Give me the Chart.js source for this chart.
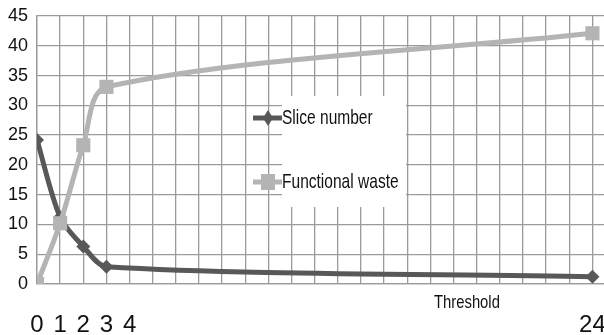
<!DOCTYPE html>
<html><head><meta charset="utf-8">
<script src="https://cdn.jsdelivr.net/npm/chart.js@4/dist/chart.umd.min.js"></script>
<style>html,body{margin:0;padding:0;background:#fff;overflow:hidden}#wrap{width:604px;height:335px;overflow:hidden}</style>
</head><body><div id="wrap"><canvas id="c" width="614" height="335"></canvas></div>
<script>
const xValues = [0, 1, 2, 3, 24];
const sliceNumber = [24.2, 11.2, 6.3, 2.9, 1.2];
const functionalWaste = [0, 10.2, 23.3, 33.1, 42.1];
const xTickLabels = [0, 1, 2, 3, 4, 24];
const yTicks = [0, 5, 10, 15, 20, 25, 30, 35, 40, 45];
const seriesNames = ['Slice number', 'Functional waste'];
const axisNote = 'Threshold';

const FONT = '"Liberation Sans", Arial, sans-serif';
const DARK = '#585858', LIGHT = '#b4b4b4', GRID = '#9a9a9a';

const toPts = (ys) => xValues.map((x, i) => ({x, y: ys[i]}));

function narrowText(ctx, text, x, y, sx) {
  ctx.save();
  ctx.translate(x, y);
  ctx.scale(sx, 1);
  ctx.fillText(text, 0, 0);
  ctx.restore();
}

const overlay = {
  id: 'overlay',
  afterDatasetsDraw(chart) {
    const ctx = chart.ctx;
    ctx.save();
    ctx.fillStyle = '#fff';
    ctx.fillRect(282, 96, 124, 111);
    const items = [
      {y: 118, color: DARK, style: 'diamond', name: seriesNames[0]},
      {y: 182, color: LIGHT, style: 'square', name: seriesNames[1]}
    ];
    items.forEach(it => {
      ctx.strokeStyle = it.color; ctx.lineWidth = 5; ctx.lineCap = 'butt';
      ctx.beginPath(); ctx.moveTo(253, it.y); ctx.lineTo(282, it.y); ctx.stroke();
      ctx.fillStyle = it.color;
      ctx.beginPath();
      if (it.style === 'square') { ctx.rect(268 - 7, it.y - 8, 14, 16); }
      else { ctx.moveTo(268, it.y - 8); ctx.lineTo(273, it.y); ctx.lineTo(268, it.y + 8); ctx.lineTo(263, it.y); ctx.closePath(); }
      ctx.fill();
      ctx.fillStyle = '#111';
      ctx.font = '21px ' + FONT;
      ctx.textBaseline = 'middle'; ctx.textAlign = 'left';
      narrowText(ctx, it.name, 282, it.y, 0.74);
    });
    ctx.font = '19px ' + FONT;
    ctx.fillStyle = '#111';
    ctx.textBaseline = 'middle'; ctx.textAlign = 'left';
    narrowText(ctx, axisNote, 434, 303, 0.78);
    ctx.restore();
  }
};

new Chart(document.getElementById('c'), {
  type: 'line',
  data: {
    datasets: [
      {label: seriesNames[0], data: toPts(sliceNumber), borderColor: DARK, backgroundColor: DARK,
       borderWidth: 5, pointStyle: 'rectRot', pointRadius: 7, pointBorderWidth: 0,
       tension: 0.3, order: 1},
      {label: seriesNames[1], data: toPts(functionalWaste), borderColor: LIGHT, backgroundColor: LIGHT,
       borderWidth: 5, pointStyle: 'rect', pointRadius: 10, pointBorderWidth: 0,
       tension: 0.3, order: 0}
    ]
  },
  options: {
    responsive: false, animation: false,
    layout: {padding: {top: 16, right: 0, left: 0, bottom: 0}},
    plugins: {legend: {display: false}, tooltip: {enabled: false}},
    scales: {
      x: {
        type: 'linear', min: 0, max: 24.5,
        afterBuildTicks(s) { const t = []; for (let i = 0; i <= 24; i++) t.push({value: i}); s.ticks = t; },
        afterFit(s) { s.height = 51; s.paddingLeft = 0; s.paddingRight = 0; },
        grid: {color: GRID, lineWidth: 1.3, drawTicks: false},
        border: {color: GRID, width: 1.3},
        ticks: {autoSkip: false, maxRotation: 0, padding: 27, color: '#111',
          font: {family: FONT, size: 24},
          callback: (v) => xTickLabels.includes(v) ? String(v) : ''}
      },
      y: {
        min: 0, max: 45,
        afterBuildTicks(s) { s.ticks = yTicks.map(v => ({value: v})); },
        afterFit(s) { s.width = 37; s.paddingTop = 0; s.paddingBottom = 0; },
        grid: {color: GRID, lineWidth: 1.3, drawTicks: false},
        border: {color: GRID, width: 1.3},
        ticks: {padding: 9, color: '#111', font: {family: FONT, size: 18}}
      }
    }
  },
  plugins: [overlay]
});
</script></body></html>
